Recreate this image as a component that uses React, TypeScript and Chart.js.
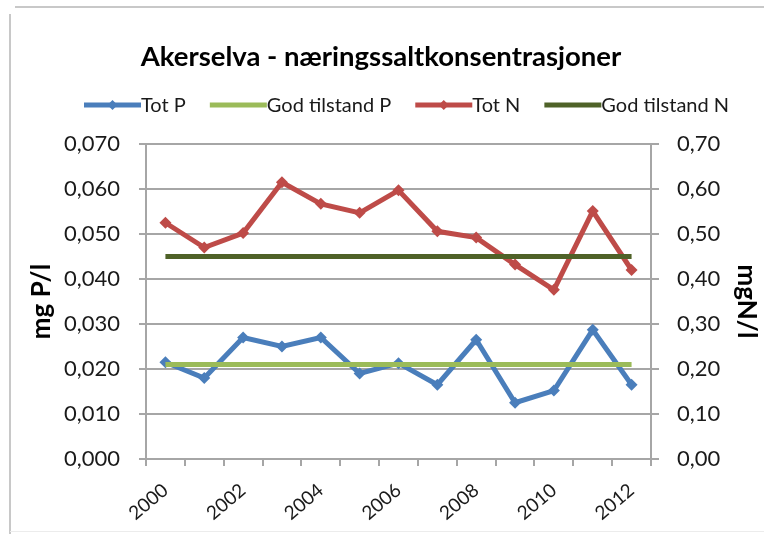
import React, { useEffect, useRef } from "react";
import { Chart, registerables } from "chart.js";

Chart.register(...registerables);

const years = ["2000", "2001", "2002", "2003", "2004", "2005", "2006", "2007", "2008", "2009", "2010", "2011", "2012"];
const totP = [0.0215, 0.018, 0.027, 0.025, 0.027, 0.019, 0.0213, 0.0165, 0.0265, 0.0125, 0.0152, 0.0287, 0.0165];
const godTilstandP = [0.021, 0.021, 0.021, 0.021, 0.021, 0.021, 0.021, 0.021, 0.021, 0.021, 0.021, 0.021, 0.021];
const totN = [0.525, 0.47, 0.502, 0.615, 0.567, 0.547, 0.597, 0.506, 0.492, 0.432, 0.376, 0.551, 0.42];
const godTilstandN = [0.45, 0.45, 0.45, 0.45, 0.45, 0.45, 0.45, 0.45, 0.45, 0.45, 0.45, 0.45, 0.45];
const shownYearLabels = ["2000", "2002", "2004", "2006", "2008", "2010", "2012"];

const chartTitle = "Akerselva - næringssaltkonsentrasjoner";
const leftAxisTitle = "mg P/l";
const rightAxisTitle = "mgN/l";
const seriesNames = ["Tot P", "God tilstand P", "Tot N", "God tilstand N"];
const seriesColors = ["#4a7ebb", "#9bbb59", "#be4b48", "#4f6228"];
const seriesMarkers = [true, false, true, false];

const FONT = "Lato, 'Open Sans', sans-serif";
const GRID = "#a6a6a6";
const TEXT = "#1a1a1a";

const decorPlugin = {
  id: "decor",
  beforeDraw(chart: any) {
    const ctx = chart.ctx;
    ctx.save();
    ctx.fillStyle = "#ffffff";
    ctx.fillRect(0, 0, chart.width, chart.height);
    ctx.strokeStyle = "#c8c8c8";
    ctx.lineWidth = 2;
    ctx.beginPath();
    ctx.moveTo(15, 7);
    ctx.lineTo(chart.width, 7);
    ctx.moveTo(10, 14);
    ctx.lineTo(10, chart.height);
    ctx.stroke();
    ctx.strokeStyle = "#ececec";
    ctx.lineWidth = 1;
    ctx.beginPath();
    ctx.moveTo(10, 531.5);
    ctx.lineTo(chart.width, 531.5);
    ctx.stroke();
    ctx.restore();
  },
  afterDraw(chart: any) {
    const ctx = chart.ctx;
    ctx.save();
    // title
    ctx.fillStyle = "#000000";
    ctx.font = `bold 27.5px ${FONT}`;
    ctx.textAlign = "center";
    ctx.textBaseline = "middle";
    ctx.fillText(chartTitle, 381, 57);
    // legend
    ctx.font = `20px ${FONT}`;
    ctx.textAlign = "left";
    const lineLen = 57;
    const gap = 24;
    const y = 105;
    let x = 84;
    seriesNames.forEach((name, i) => {
      ctx.strokeStyle = seriesColors[i];
      ctx.lineWidth = 5;
      ctx.lineCap = "butt";
      ctx.beginPath();
      ctx.moveTo(x, y);
      ctx.lineTo(x + lineLen, y);
      ctx.stroke();
      if (seriesMarkers[i]) {
        const cx = x + lineLen / 2;
        ctx.fillStyle = seriesColors[i];
        ctx.beginPath();
        ctx.moveTo(cx, y - 5);
        ctx.lineTo(cx + 5, y);
        ctx.lineTo(cx, y + 5);
        ctx.lineTo(cx - 5, y);
        ctx.closePath();
        ctx.fill();
      }
      ctx.fillStyle = TEXT;
      ctx.fillText(name, x + lineLen, y + 1);
      x += lineLen + ctx.measureText(name).width + gap;
    });
    ctx.restore();
  },
};

export default function App() {
  const canvasRef = useRef<HTMLCanvasElement | null>(null);

  useEffect(() => {
    const canvas = canvasRef.current;
    if (!canvas) return;
    const chart = new Chart(canvas, {
      type: "line",
      data: {
        labels: years,
        datasets: [
          {
            label: seriesNames[0],
            data: totP,
            yAxisID: "yP",
            borderColor: seriesColors[0],
            backgroundColor: seriesColors[0],
            borderWidth: 5,
            pointStyle: "rectRot",
            pointRadius: 6,
            pointBorderWidth: 0,
            tension: 0,
            order: 4,
          },
          {
            label: seriesNames[1],
            data: godTilstandP,
            yAxisID: "yP",
            borderColor: seriesColors[1],
            backgroundColor: seriesColors[1],
            borderWidth: 5,
            pointRadius: 0,
            tension: 0,
            order: 3,
          },
          {
            label: seriesNames[2],
            data: totN,
            yAxisID: "yN",
            borderColor: seriesColors[2],
            backgroundColor: seriesColors[2],
            borderWidth: 5,
            pointStyle: "rectRot",
            pointRadius: 6,
            pointBorderWidth: 0,
            tension: 0,
            order: 2,
          },
          {
            label: seriesNames[3],
            data: godTilstandN,
            yAxisID: "yN",
            borderColor: seriesColors[3],
            backgroundColor: seriesColors[3],
            borderWidth: 5,
            pointRadius: 0,
            tension: 0,
            order: 1,
          },
        ],
      },
      options: {
        responsive: false,
        animation: false,
        events: [],
        layout: { padding: { top: 144, left: 0, right: 0, bottom: 0 } },
        plugins: {
          legend: { display: false },
          title: { display: false },
          tooltip: { enabled: false },
        },
        scales: {
          x: {
            type: "category",
            offset: true,
            grid: {
              offset: true,
              drawOnChartArea: false,
              drawTicks: true,
              tickLength: 7,
              color: GRID,
              lineWidth: 2,
            },
            border: { display: true, color: GRID, width: 2 },
            ticks: {
              autoSkip: false,
              maxRotation: 40,
              minRotation: 40,
              padding: 13,
              color: TEXT,
              font: { family: FONT, size: 19 },
              callback: function (this: any, value: any, index: number) {
                const lab = years[index];
                return shownYearLabels.includes(lab) ? lab : "";
              },
            },
            afterFit(scale: any) {
              scale.height = 75;
              scale.paddingLeft = 0;
              scale.paddingRight = 0;
            },
          },
          yP: {
            type: "linear",
            position: "left",
            min: 0,
            max: 0.07,
            grid: {
              color: GRID,
              lineWidth: 2,
              drawTicks: true,
              tickLength: 7,
            },
            border: { display: true, color: GRID, width: 2 },
            ticks: {
              stepSize: 0.01,
              padding: 19,
              color: TEXT,
              font: { family: FONT, size: 22 },
              callback: (v: any) => Number(v).toFixed(3).replace(".", ","),
            },
            title: {
              display: true,
              text: leftAxisTitle,
              color: "#000000",
              font: { family: FONT, size: 26, weight: "bold" },
              padding: { top: 26, bottom: 0 },
            },
            afterFit(scale: any) {
              scale.width = 146;
              scale.paddingTop = 0;
              scale.paddingBottom = 0;
            },
          },
          yN: {
            type: "linear",
            position: "right",
            min: 0,
            max: 0.7,
            grid: {
              drawOnChartArea: false,
              color: GRID,
              lineWidth: 2,
              drawTicks: true,
              tickLength: 8,
            },
            border: { display: true, color: GRID, width: 2 },
            ticks: {
              stepSize: 0.1,
              padding: 18,
              color: TEXT,
              font: { family: FONT, size: 22 },
              callback: (v: any) => Number(v).toFixed(2).replace(".", ","),
            },
            title: {
              display: true,
              text: rightAxisTitle,
              color: "#000000",
              font: { family: FONT, size: 26, weight: "bold" },
              padding: { top: 2, bottom: 0 },
            },
            afterFit(scale: any) {
              scale.width = 113;
              scale.paddingTop = 0;
              scale.paddingBottom = 0;
            },
          },
        },
      },
      plugins: [decorPlugin],
    });
    return () => chart.destroy();
  }, []);

  return (
    <div style={{ position: "absolute", left: 0, top: 0, width: 764, height: 534 }}>
      <canvas ref={canvasRef} width={764} height={534} style={{ display: "block" }} />
    </div>
  );
}
